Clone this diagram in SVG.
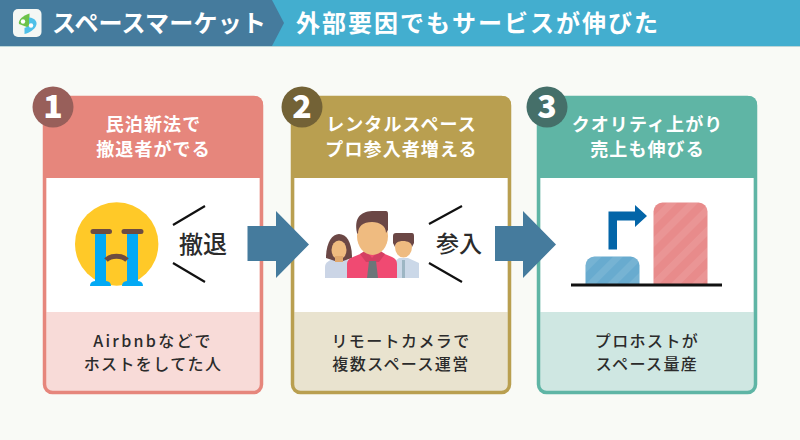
<svg xmlns="http://www.w3.org/2000/svg" width="800" height="440" viewBox="0 0 800 440">
<style>
text{font-family:"Noto Sans CJK JP","Noto Sans",sans-serif;font-weight:700;text-anchor:middle}
.ttl{font-size:18px;fill:#fff;letter-spacing:1.1px}
.cap{font-size:16px;fill:#2b2b2b;font-weight:500;letter-spacing:1.4px}
.num{font-size:32px;fill:#fff;font-weight:900}
.hd{fill:#fff}
.word{font-size:24px;fill:#2b2b2b;font-weight:500}
.tick{stroke:#111;stroke-width:2.2;fill:none}
.arrow{fill:#457b9d}
</style>
<defs>
<pattern id="st" width="15" height="15" patternUnits="userSpaceOnUse" patternTransform="rotate(45)"><rect width="7" height="15" fill="#fff" fill-opacity="0.09"/></pattern>
</defs>
<rect width="800" height="440" fill="#f9faf6"/>
<g id="header">
<rect width="800" height="46" fill="#43aecf"/>
<path d="M0 0H272L284 23L272 46H0Z" fill="#457b9d"/>
<rect y="46" width="800" height="1" fill="#bcd6d8"/>
<rect x="13" y="9" width="28.500" height="28" rx="5" fill="#f4f7f4"/>
<path d="M29.500 13.500V28L19 24C17.500 20 24 15 29.500 13.500Z" fill="#6cc24a"/>
<path d="M29 17.500C35 18 38 22 36 26C34.500 29 30 33 24.500 34V28L29 26Z" fill="#4fc0e8"/>
<circle cx="23" cy="21.500" r="2.200" fill="#fff"/><circle cx="31" cy="25.500" r="2.200" fill="#fff"/>
<text class="hd" x="159" y="32" style="font-size:24px;letter-spacing:0.200px">スペースマーケット</text>
<text class="hd" x="478" y="32" style="font-size:24px;letter-spacing:2px">外部要因でもサービスが伸びた</text>
</g>
<g id="card1">
<rect x="44.500" y="97.500" width="217" height="295" rx="8" fill="#f8dbd8" stroke="#e6867c" stroke-width="3.500"/>
<path d="M43 178V104a8 8 0 0 1 8-8H255a8 8 0 0 1 8 8V178Z" fill="#e6867c"/>
<rect x="46.700" y="178" width="212.600" height="134" fill="#fff"/>
<circle cx="53" cy="107" r="20.500" fill="#985f5a"/>
<text class="num" x="53" y="118">1</text>
<text class="ttl" x="153.500" y="131">民泊新法で</text>
<text class="ttl" x="153.500" y="156">撤退者がでる</text>
<circle cx="116.700" cy="244" r="41.700" fill="#ffc928"/>
<path d="M95 232H106V281A6 5 0 0 1 111 286H90A6 5 0 0 1 95 281Z M127 232H138V281A6 5 0 0 1 143 286H122A6 5 0 0 1 127 281Z" fill="#03a9f4"/>
<path d="M93 231.500H109.500M124 231.500H141" stroke="#6d4c41" stroke-width="5" stroke-linecap="round" fill="none"/>
<path d="M106 260C111 255 122 255 127 260" stroke="#6d4c41" stroke-width="5" fill="none"/>
<path class="tick" d="M173 225L205 206M173 263L205 282"/>
<text class="word" x="203" y="253">撤退</text>
<text class="cap" x="153" y="347" style="letter-spacing:2.300px">Airbnbなどで</text>
<text class="cap" x="153" y="370">ホストをしてた人</text>
</g>
<g id="card2">
<rect x="292.500" y="97.500" width="217" height="295" rx="8" fill="#e9e3cf" stroke="#b99f50" stroke-width="3.500"/>
<path d="M291 178V104a8 8 0 0 1 8-8H503a8 8 0 0 1 8 8V178Z" fill="#b99f50"/>
<rect x="294.700" y="178" width="212.600" height="134" fill="#fff"/>
<circle cx="302" cy="107" r="20.500" fill="#736236"/>
<text class="num" x="302" y="118">2</text>
<text class="ttl" x="401.500" y="131">レンタルスペース</text>
<text class="ttl" x="401.500" y="156">プロ参入者増える</text>
<g id="people">
<path d="M325 278V267C325 262 330 260 335 258H343L351 262V278Z" fill="#cbd5e6"/>
<path d="M326 258C326 243 332 234 339 234C347 234 352 243 352 258L343 261H335Z" fill="#6b4745"/>
<ellipse cx="339" cy="250" rx="7.500" ry="9.500" fill="#efbb80"/>
<rect x="335" y="256" width="8" height="6" fill="#e0a86e"/>
<path d="M394 278V262L399 258H408L419 263V278Z" fill="#cbd8e8"/>
<rect x="402" y="260" width="3" height="18" fill="#9db6c4"/>
<ellipse cx="403.500" cy="247" rx="8.500" ry="10.500" fill="#efbb80"/>
<path d="M393 243V236Q393 233 396 233H412Q414 233 414 236V243L412 247C412 243 408 241 403 241C398 241 395 243 395 247Z" fill="#6b4745"/>
<path d="M347 278V264Q347 259 353 257L365 252H380L392 257Q397 259 397 264V278Z" fill="#f04a72"/>
<path d="M360 254L366 250L372 258L379 250L385 254L379 262H374.500H369.500H366Z" fill="#d43f63"/>
<path d="M369 261H376L378 278H367Z" fill="#6c7679"/>
<ellipse cx="372.500" cy="236" rx="15.500" ry="19" fill="#efbb80"/>
<path d="M357 233C354 218 360 212 372 211H386Q388 211 388 214V230L386 233C386 226 380 222 372 222C363 222 358 226 358 234Z" fill="#6b4745"/>
</g>
<path class="tick" d="M429 224L462 206M429 263L462 282"/>
<text class="word" x="459" y="252" style="font-size:23px">参入</text>
<text class="cap" x="401" y="347">リモートカメラで</text>
<text class="cap" x="401" y="370">複数スペース運営</text>
</g>
<g id="card3">
<rect x="538.500" y="97.500" width="217" height="295" rx="8" fill="#cfe7e2" stroke="#5fb5a5" stroke-width="3.500"/>
<path d="M537 178V104a8 8 0 0 1 8-8H749a8 8 0 0 1 8 8V178Z" fill="#5fb5a5"/>
<rect x="540.700" y="178" width="212.600" height="134" fill="#fff"/>
<circle cx="547" cy="107" r="20.500" fill="#456f69"/>
<text class="num" x="547" y="118">3</text>
<text class="ttl" x="647.500" y="131">クオリティ上がり</text>
<text class="ttl" x="647.500" y="156">売上も伸びる</text>
<path id="barA" d="M585.500 285V265.500a9 9 0 0 1 9-9H630.500a9 9 0 0 1 9 9V285Z" fill="#68abcf"/>
<path d="M585.500 285V265.500a9 9 0 0 1 9-9H630.500a9 9 0 0 1 9 9V285Z" fill="url(#st)"/>
<path id="barB" d="M653.500 285V211.500a9 9 0 0 1 9-9H698.500a9 9 0 0 1 9 9V285Z" fill="#e88b8b"/>
<path d="M653.500 285V211.500a9 9 0 0 1 9-9H698.500a9 9 0 0 1 9 9V285Z" fill="url(#st)"/>
<path d="M608.500 249.500V211.500H635V205L647 216L635 227V220.500H617V249.500Z" fill="#0365a8"/>
<path d="M571 285H722" stroke="#111" stroke-width="3"/>
<text class="cap" x="647" y="347">プロホストが</text>
<text class="cap" x="647" y="370">スペース量産</text>
</g>
<g id="connectors">
<path class="arrow" d="M247.500 226H276V211L309 244.500L276 278V261H247.500Z"/>
<path class="arrow" d="M495 226H523V211L556 244.500L523 278V261H495Z"/>
</g>
</svg>
